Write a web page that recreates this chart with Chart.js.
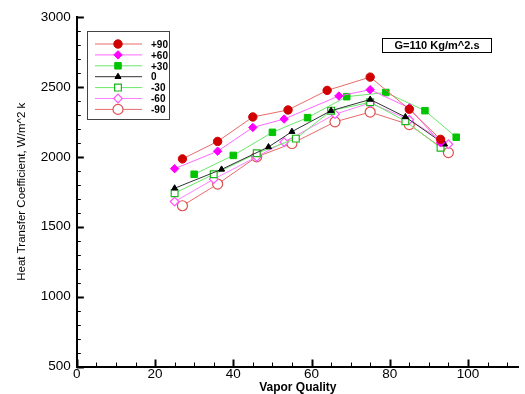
<!DOCTYPE html>
<html>
<head>
<meta charset="utf-8">
<script src="https://cdn.jsdelivr.net/npm/chart.js@4/dist/chart.umd.min.js"></script>
<style>
  html,body{margin:0;padding:0;background:#fff;}
  #wrap{width:525px;height:394px;}
</style>
</head>
<body>
<div id="wrap"><canvas id="grafica"></canvas></div>
<script>
// series labels
const etiquetas = ['+90','+60','+30','0','-30','-60','-90'];

// vapor quality (x) and heat transfer coefficient (y) per series
const xP90 = [27, 36, 45, 54, 64, 75, 85, 93];
const yP90 = [1985, 2110, 2285, 2335, 2475, 2570, 2340, 2125];
const xP60 = [25, 36, 45, 53, 67, 75, 85, 93];
const yP60 = [1915, 2040, 2210, 2270, 2435, 2480, 2350, 2100];
const xP30 = [30, 40, 50, 59, 69, 79, 89, 97];
const yP30 = [1875, 2010, 2175, 2280, 2430, 2460, 2330, 2140];
const x0 = [25, 37, 49, 55, 65, 75, 84, 94];
const y0 = [1775, 1910, 2070, 2180, 2330, 2410, 2285, 2090];
const xM30 = [25, 35, 46, 56, 65, 75, 84, 93];
const yM30 = [1740, 1875, 2025, 2130, 2330, 2390, 2255, 2065];
const xM60 = [25, 35, 46, 53, 66, 75, 85, 95];
const yM60 = [1680, 1840, 2000, 2105, 2305, 2385, 2265, 2090];
const xM90 = [27, 36, 46, 55, 66, 75, 85, 95];
const yM90 = [1650, 1805, 2000, 2095, 2250, 2320, 2230, 2030];

const xTicks = [0, 20, 40, 60, 80, 100];
const yTicks = [500, 1000, 1500, 2000, 2500, 3000];

const nota = 'G=110 Kg/m^2.s';
const fuente = '"Liberation Sans", Arial, sans-serif';

function puntos(xs, ys){
  return xs.map((v, i) => ({x: v, y: ys[i]}));
}

// estilo de cada serie
function serie(label, xs, ys, linea, marca, forma, radio, hueco){
  return {
    label: label,
    data: puntos(xs, ys),
    borderColor: linea,
    borderWidth: 1,
    pointStyle: forma,
    pointRadius: radio,
    pointBorderColor: marca,
    pointBorderWidth: hueco ? 1.2 : 1,
    pointBackgroundColor: hueco ? '#ffffff' : marca,
    tension: 0
  };
}

const datasets = [
  serie(etiquetas[0], xP90, yP90, '#e86a6a', '#d00000', 'circle', 4.2, false),
  serie(etiquetas[1], xP60, yP60, '#ff66ff', '#ff00ff', 'rectRot', 4.2, false),
  serie(etiquetas[2], xP30, yP30, '#6ae86a', '#00c400', 'rect', 4.6, false),
  serie(etiquetas[3], x0, y0, '#333333', '#000000', 'triangle', 3.5, false),
  serie(etiquetas[4], xM30, yM30, '#6ae86a', '#18b818', 'rect', 4.8, true),
  serie(etiquetas[5], xM60, yM60, '#ff80ff', '#ff55ff', 'rectRot', 4.3, true),
  serie(etiquetas[6], xM90, yM90, '#e86a6a', '#e05050', 'circle', 5, true)
];

// ticks hacia dentro + leyenda + nota
const extras = {
  id: 'extras',
  afterDatasetsDraw(chart){
    const ctx = chart.ctx;
    const sx = chart.scales.x, sy = chart.scales.y;
    const a = chart.chartArea;
    ctx.save();
    ctx.strokeStyle = '#000';
    // x ticks
    for (let v = 0; v <= 110; v += 5){
      const px = Math.round(sx.getPixelForValue(v)) + 0.5;
      const big = v % 20 === 0;
      ctx.lineWidth = big ? 2 : 1;
      ctx.beginPath();
      ctx.moveTo(px, a.bottom);
      ctx.lineTo(px, a.bottom - (big ? 7 : 4));
      ctx.stroke();
    }
    // y ticks
    for (let v = 500; v <= 3000; v += 100){
      const py = Math.round(sy.getPixelForValue(v)) + 0.5;
      const big = v % 500 === 0;
      ctx.lineWidth = big ? 2 : 1;
      ctx.beginPath();
      ctx.moveTo(a.left, py);
      ctx.lineTo(a.left + (big ? 7 : 4), py);
      ctx.stroke();
    }

    // leyenda
    const lx = 87, ly = 31, lw = 82, lh = 88;
    ctx.lineWidth = 1;
    ctx.fillStyle = '#fff';
    ctx.fillRect(lx, ly, lw, lh);
    ctx.strokeStyle = '#444';
    ctx.strokeRect(lx + 0.5, ly + 0.5, lw, lh);
    ctx.font = 'bold 10px ' + fuente;
    ctx.textBaseline = 'middle';
    ctx.textAlign = 'left';
    chart.data.datasets.forEach((d, i) => {
      const yy = 44 + i * 10.9;
      ctx.strokeStyle = d.borderColor;
      ctx.lineWidth = 1;
      ctx.beginPath();
      ctx.moveTo(95, yy);
      ctx.lineTo(142, yy);
      ctx.stroke();
      ctx.strokeStyle = d.pointBorderColor;
      ctx.fillStyle = d.pointBackgroundColor;
      ctx.lineWidth = d.pointBorderWidth;
      Chart.helpers.drawPoint(ctx, {pointStyle: d.pointStyle, radius: d.pointRadius, borderWidth: d.pointBorderWidth}, 118, yy);
      ctx.fillStyle = '#000';
      ctx.fillText(d.label, 151, yy + 1);
    });

    // nota G
    ctx.fillStyle = '#fff';
    ctx.fillRect(382, 38, 109, 14);
    ctx.strokeStyle = '#000';
    ctx.lineWidth = 1;
    ctx.strokeRect(382.5, 38.5, 109, 14);
    ctx.fillStyle = '#000';
    ctx.font = 'bold 11px ' + fuente;
    ctx.textAlign = 'center';
    ctx.fillText(nota, 437, 46);
    ctx.restore();
  }
};

new Chart(document.getElementById('grafica'), {
  type: 'line',
  data: { datasets: datasets },
  options: {
    responsive: true,
    maintainAspectRatio: false,
    animation: false,
    layout: { padding: { top: 17, right: -8, left: 15, bottom: 0 } },
    plugins: {
      legend: { display: false },
      tooltip: { enabled: false }
    },
    scales: {
      x: {
        type: 'linear',
        min: 0,
        max: 113,
        afterBuildTicks: (s) => { s.ticks = xTicks.map(v => ({value: v})); },
        grid: { display: false, drawTicks: false },
        border: { display: true, color: '#000', width: 2 },
        ticks: {
          color: '#000',
          padding: 1,
          maxRotation: 0,
          callback: (v) => String(v),
          font: { size: 13.5, lineHeight: 1, family: fuente }
        },
        title: {
          display: true,
          text: 'Vapor Quality',
          color: '#000',
          padding: { top: 0, bottom: 0 },
          font: { size: 12, weight: 'bold', lineHeight: 1, family: fuente }
        }
      },
      y: {
        type: 'linear',
        min: 500,
        max: 3000,
        afterBuildTicks: (s) => { s.ticks = yTicks.map(v => ({value: v})); },
        grid: { display: false, drawTicks: false },
        border: { display: true, color: '#000', width: 2 },
        ticks: {
          color: '#000',
          padding: 6,
          callback: (v) => String(v),
          font: { size: 13.5, family: fuente }
        },
        title: {
          display: true,
          text: 'Heat Transfer Coefficient, W/m^2 k',
          color: '#000',
          padding: { top: 0, bottom: 6 },
          font: { size: 11.5, family: fuente }
        }
      }
    }
  },
  plugins: [extras]
});
</script>
</body>
</html>
